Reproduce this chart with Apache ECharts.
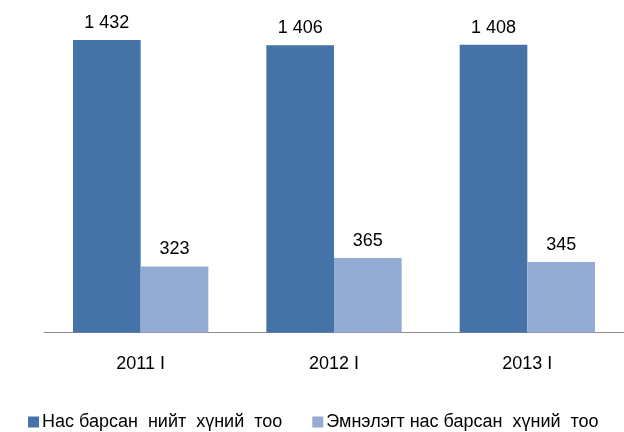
<!DOCTYPE html>
<html><head><meta charset="utf-8">
<script src="https://cdn.jsdelivr.net/npm/echarts@6/dist/echarts.min.js"></script>
<style>html,body{margin:0;padding:0;background:#fff}#c{width:624px;height:432px}</style>
</head><body><div id="c"></div>
<script>
const categories = ['2011 I', '2012 I', '2013 I'];
const seriesNames = ['Нас барсан  нийт  хүний  тоо', 'Эмнэлэгт нас барсан  хүний  тоо'];
const totalDeaths = [1432, 1406, 1408];
const hospitalDeaths = [323, 365, 345];

const chart = echarts.init(document.getElementById('c'), null, {renderer: 'canvas'});
const font = 'Liberation Sans, Arial, sans-serif';
const fmt = v => String(v).replace(/\B(?=(\d{3})+(?!\d))/g, ' ');
chart.setOption({
  animation: false,
  textStyle: {fontFamily: font},
  grid: {left: 44, top: 26, width: 582, height: 306.5, containLabel: false},
  legend: {
    top: 408, left: 23, itemWidth: 11, itemHeight: 11, itemGap: 30, icon: 'rect',
    textStyle: {fontSize: 18, color: '#000', fontFamily: font, padding: [0,0,0,-2]},
    data: seriesNames
  },
  xAxis: {
    type: 'category', data: categories,
    axisLine: {lineStyle: {color: '#8c8c8c', width: 1}},
    axisTick: {show: false},
    axisLabel: {fontSize: 18, color: '#000', margin: 23, fontFamily: font}
  },
  yAxis: {type: 'value', min: 0, max: 1500, show: false, splitLine: {show: false}},
  series: [
    {name: seriesNames[0], type: 'bar', data: totalDeaths, barGap: '0%', barCategoryGap: '30%',
     itemStyle: {color: '#4573a7'},
     label: {show: true, position: 'top', distance: 8, fontSize: 18, color: '#000', fontFamily: font, formatter: p => fmt(p.value)}},
    {name: seriesNames[1], type: 'bar', data: hospitalDeaths,
     itemStyle: {color: '#94acd4'},
     label: {show: true, position: 'top', distance: 8, fontSize: 18, color: '#000', fontFamily: font, formatter: p => fmt(p.value)}}
  ]
});
</script></body></html>
